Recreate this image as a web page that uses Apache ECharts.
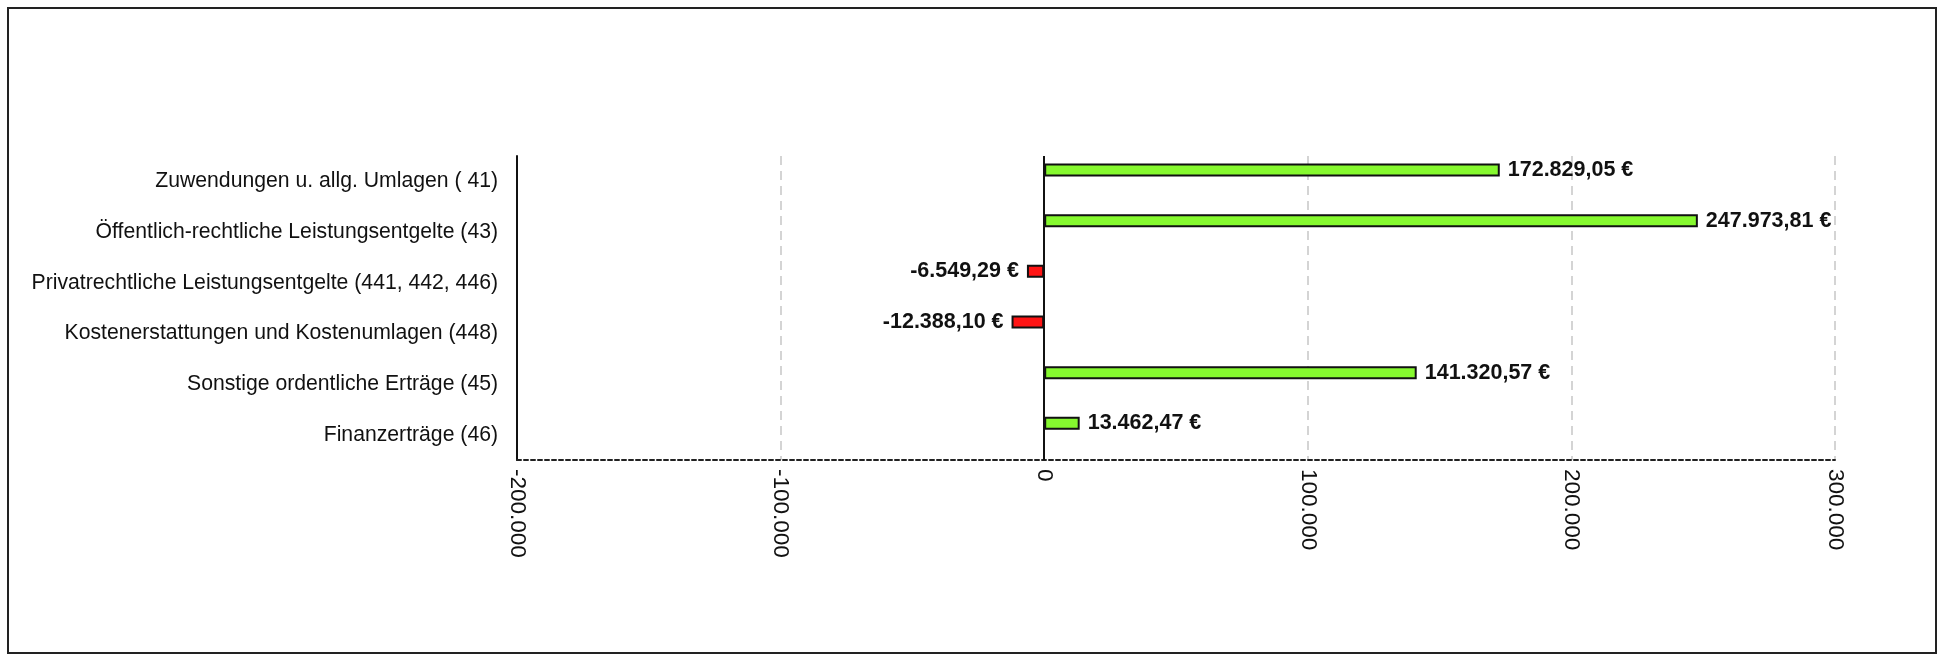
<!DOCTYPE html>
<html>
<head>
<meta charset="utf-8">
<script src="https://cdn.jsdelivr.net/npm/echarts@6/dist/echarts.min.js"></script>
<style>
html,body{margin:0;padding:0;background:#fff;overflow:hidden;}
#frame{position:absolute;left:7px;top:7px;width:1930px;height:647px;border:2px solid #222;box-sizing:border-box;}
#chart{position:absolute;left:0;top:0;width:1939px;height:655px;}
</style>
</head>
<body>
<div id="frame"></div>
<div id="chart"></div>
<script>
const categories = [
  'Zuwendungen u. allg. Umlagen ( 41)',
  'Öffentlich-rechtliche Leistungsentgelte (43)',
  'Privatrechtliche Leistungsentgelte (441, 442, 446)',
  'Kostenerstattungen und Kostenumlagen (448)',
  'Sonstige ordentliche Erträge (45)',
  'Finanzerträge (46)'
];
const values = [172829.05, 247973.81, -6549.29, -12388.10, 141320.57, 13462.47];
const axisMin = -200000, axisMax = 300000, axisStep = 100000;

function fmtGroup(intStr){
  return intStr.replace(/\B(?=(\d{3})+(?!\d))/g, '.');
}
function fmtEuro(v){
  const neg = v < 0;
  const s = Math.abs(v).toFixed(2).split('.');
  return (neg ? '-' : '') + fmtGroup(s[0]) + ',' + s[1] + ' €';
}
function fmtTick(v){
  const neg = v < 0;
  return (neg ? '-' : '') + fmtGroup(String(Math.round(Math.abs(v))));
}

const chart = echarts.init(document.getElementById('chart'), null, {renderer:'canvas'});
const font = 'Liberation Sans, Arial, sans-serif';
chart.setOption({
  animation:false,
  backgroundColor:'transparent',
  textStyle:{fontFamily:font},
  grid:{left:517, right:104, top:156, bottom:195, containLabel:false},
  xAxis:{
    type:'value', min:axisMin, max:axisMax, interval:axisStep,
    axisLine:{show:true, onZero:false, lineStyle:{color:'#222', width:2, type:[4,3]}},
    axisTick:{show:false},
    axisLabel:{rotate:-90, margin:9, fontSize:22.5, color:'#111', fontFamily:font, formatter:fmtTick},
    splitLine:{show:true, lineStyle:{color:'#d4d4d4', width:2, type:[9,6]}}
  },
  yAxis:{
    type:'category', data:categories, inverse:true,
    axisLine:{show:true, onZero:false, lineStyle:{color:'#111', width:2}},
    axisTick:{show:false},
    axisLabel:{fontSize:21.2, color:'#111', margin:19, fontFamily:font, padding:[9,0,0,0]},
    splitLine:{show:false}
  },
  series:[
    {
      type:'bar',
      data:values.map(v => v < 0 ? {value:v, label:{position:'left'}} : v),
      barWidth:13, barGap:'75%',
      itemStyle:{
        borderColor:'#111', borderWidth:2,
        color:(p)=> p.value < 0 ? '#ff1414' : '#86f92f'
      },
      label:{
        show:true, fontSize:21.5, fontWeight:'bold', color:'#111', fontFamily:font, distance:8,
        position:'right',
        formatter:(p)=>fmtEuro(p.value)
      },
      markLine:{
        silent:true, symbol:'none', label:{show:false},
        lineStyle:{color:'#111', width:2, type:'solid'},
        data:[{xAxis:0}]
      }
    },
    {
      type:'bar', data:values.map(()=>null), barWidth:13
    }
  ]
});
</script>
</body>
</html>
